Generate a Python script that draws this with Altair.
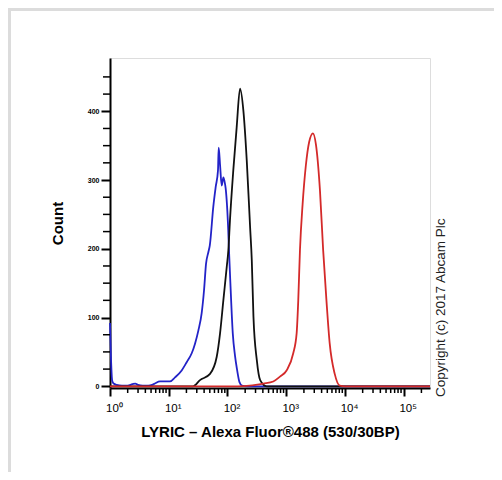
import altair as alt
import pandas as pd

blue_x = [1.0, 1.04, 1.09, 1.15, 1.3, 1.6, 2.0, 2.4, 2.7, 3.0, 3.6, 4.5, 5.2, 5.8, 7.1,
          10.5, 12.8, 16.6, 20.2, 24.6, 28.0, 31.9, 36.3, 39.9, 43.1, 47.2, 50, 57.3,
          63, 68.9, 70.8, 75, 79.7, 85.1, 89, 93.1, 103, 106, 112, 123, 134, 145, 160,
          176, 220, 280000]
blue_y = [92, 40, 8, 4, 2, 1, 1, 3, 4, 2, 1, 1, 2, 4, 7,
          7, 13, 23, 35, 48, 62, 81, 106, 140, 178, 195, 205, 261,
          290, 314, 347, 320, 292, 304, 298, 288, 227, 198, 150, 77, 45, 25, 6,
          1, 0, 0]

black_x = [1.0, 25.8, 34.0, 50.4, 65.6, 74.7, 85.0, 97.2, 103.5, 110.1, 125.5, 143.4,
           163.5, 186.4, 212.6, 242.4, 259.2, 276.7, 315.6, 359.9, 465, 280000]
black_y = [0, 0, 9, 18, 43, 77, 125, 174, 198, 241, 314, 377,
           433, 401, 329, 232, 183, 101, 38, 9, 0, 0]

red_x = [1.0, 150, 240, 406, 602, 783, 1013, 1316, 1503, 1602, 1712, 1900, 2150,
         2450, 2850, 3200, 3750, 4250, 4834, 5498, 6691, 8140, 10000, 280000]
red_y = [0, 0, 1, 4, 7, 14, 23, 48, 77, 125, 198, 265, 320,
         355, 368, 352, 285, 198, 125, 62, 18, 1, 0, 0]

x_major = [1, 10, 100, 1000, 10000, 100000]
x_minor = [2, 3, 4, 5, 6, 7, 8, 9,
           20, 30, 40, 50, 60, 70, 80, 90,
           200, 300, 400, 500, 600, 700, 800, 900,
           2000, 3000, 4000, 5000, 6000, 7000, 8000, 9000,
           20000, 30000, 40000, 50000, 60000, 70000, 80000, 90000,
           200000]
y_major = [0, 100, 200, 300, 400]
y_minor = [25, 50, 75, 125, 150, 175, 225, 250, 275, 325, 350, 375, 425, 450]

x_title = "LYRIC \u2013 Alexa Fluor\u00ae488 (530/30BP)"
y_title = "Count"
copyright = "Copyright (c) 2017 Abcam Plc"

W, H = 320, 330
FONT = "Liberation Sans"

xscale = alt.Scale(type="log", domain=[1, 280000], nice=False)
yscale = alt.Scale(domain=[-2.5, 477.5], nice=False, zero=False)

x_axis = alt.Axis(values=x_major, title=x_title, grid=False,
                  labelExpr="'10' + ['\u2070','\u00b9','\u00b2','\u00b3','\u2074','\u2075'][round(log(datum.value)/LN10)]",
                  tickSize=8, tickWidth=2, tickColor="black",
                  domainColor="black", domainWidth=2,
                  labelFontSize=11.5, labelFont=FONT, labelColor="black",
                  labelPadding=6, labelFlush=False, labelOffset=4,
                  titleFontSize=15, titleFontWeight="bold", titleFont=FONT,
                  titleColor="black", titlePadding=11)
y_axis = alt.Axis(values=y_major, title=y_title, grid=False,
                  tickSize=9, tickWidth=2, tickColor="black",
                  domainColor="black", domainWidth=2,
                  labelFontSize=7, labelFontWeight="bold", labelFont=FONT,
                  labelColor="black", labelPadding=2,
                  titleFontSize=15, titleFontWeight="bold", titleFont=FONT,
                  titleColor="black", titlePadding=22)


def line_layer(xs, ys, color):
    df = pd.DataFrame({"fl": xs, "count": ys})
    return alt.Chart(df).mark_line(color=color, strokeWidth=1.8,
                                   interpolate="monotone").encode(
        x=alt.X("fl:Q", scale=xscale, axis=x_axis),
        y=alt.Y("count:Q", scale=yscale, axis=y_axis),
    )


blue = line_layer(blue_x, blue_y, "#2323c8")
black = line_layer(black_x, black_y, "#111111")
red = line_layer(red_x, red_y, "#d42a2a")

xminor = alt.Chart(pd.DataFrame({"fl": x_minor})).mark_rule(
    color="black", strokeWidth=1.5).encode(
    x=alt.X("fl:Q", scale=xscale, axis=x_axis),
    y=alt.value(H), y2=alt.value(H + 5),
)
yminor = alt.Chart(pd.DataFrame({"count": y_minor})).mark_rule(
    color="black", strokeWidth=1.5).encode(
    y=alt.Y("count:Q", scale=yscale, axis=y_axis),
    x=alt.value(0), x2=alt.value(-7),
)

one = pd.DataFrame({"t": [copyright]})
copy_text = alt.Chart(one).mark_text(
    angle=270, align="left", baseline="middle", fontSize=13.5,
    font=FONT, color="#222222").encode(
    x=alt.value(W + 11), y=alt.value(H + 9), text="t:N")

border_left = alt.Chart(one).mark_rule(color="#dcdcdc", strokeWidth=3).encode(
    x=alt.value(-100.5), y=alt.value(-50), y2=alt.value(H + 84))
border_top = alt.Chart(one).mark_rule(color="#dcdcdc", strokeWidth=3).encode(
    y=alt.value(-48.5), x=alt.value(-102), x2=alt.value(W + 64))

chart = alt.layer(
    blue, black, red, xminor, yminor, copy_text, border_left, border_top
).properties(
    width=W, height=H,
    padding={"left": 102, "top": 50, "right": 64, "bottom": 84},
    autosize=alt.AutoSizeParams(type="none"),
).configure_view(
    stroke="#222222", strokeWidth=2
).configure(
    background="white"
)

chart.save("out.html", embed_options={"renderer": "svg", "actions": False})
